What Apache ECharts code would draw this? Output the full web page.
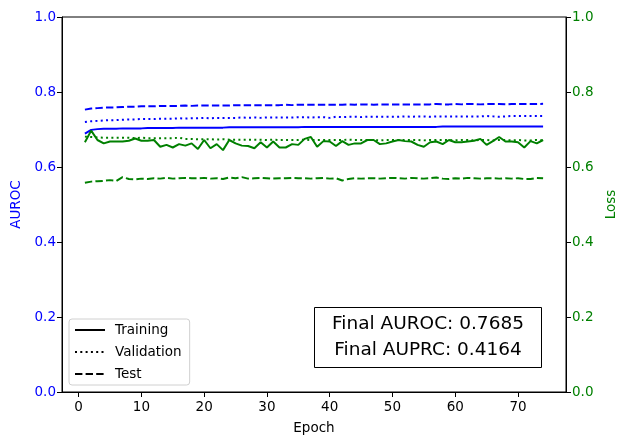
<!DOCTYPE html>
<html>
<head>
<meta charset="utf-8">
<script src="https://cdn.jsdelivr.net/npm/echarts@6.0.0/dist/echarts.min.js"></script>
<style>
    html, body { margin: 0; padding: 0; background: #fff; }
    #chart { width: 618px; height: 435px; }
</style>
</head>
<body>
<div id="chart"></div>
<script>
var epochs = [1, 2, 3, 4, 5, 6, 7, 8, 9, 10, 11, 12, 13, 14, 15, 16, 17, 18, 19, 20,
    21, 22, 23, 24, 25, 26, 27, 28, 29, 30, 31, 32, 33, 34, 35, 36, 37, 38, 39, 40,
    41, 42, 43, 44, 45, 46, 47, 48, 49, 50, 51, 52, 53, 54, 55, 56, 57, 58, 59, 60,
    61, 62, 63, 64, 65, 66, 67, 68, 69, 70, 71, 72, 73, 74];
var xTicks = [0, 10, 20, 30, 40, 50, 60, 70];

var trainAuroc = [0.689, 0.699, 0.701, 0.702, 0.702, 0.702, 0.703, 0.703, 0.703, 0.703,
    0.704, 0.704, 0.704, 0.704, 0.704, 0.705, 0.705, 0.705, 0.705, 0.705,
    0.705, 0.705, 0.705, 0.706, 0.706, 0.706, 0.706, 0.706, 0.706, 0.706,
    0.706, 0.706, 0.706, 0.706, 0.706, 0.707, 0.707, 0.707, 0.707, 0.707,
    0.707, 0.707, 0.707, 0.707, 0.707, 0.707, 0.707, 0.707, 0.707, 0.707,
    0.707, 0.707, 0.707, 0.707, 0.707, 0.707, 0.707, 0.708, 0.708, 0.708,
    0.708, 0.708, 0.708, 0.708, 0.708, 0.708, 0.708, 0.708, 0.708, 0.708,
    0.708, 0.708, 0.708, 0.708];
var valAuroc = [0.720, 0.722, 0.723, 0.724, 0.725, 0.725, 0.726, 0.727, 0.727, 0.728,
    0.728, 0.728, 0.729, 0.729, 0.729, 0.730, 0.729, 0.730, 0.730, 0.731,
    0.730, 0.731, 0.731, 0.731, 0.731, 0.732, 0.731, 0.732, 0.731, 0.732,
    0.732, 0.732, 0.732, 0.732, 0.733, 0.733, 0.732, 0.733, 0.733, 0.731,
    0.734, 0.733, 0.734, 0.734, 0.733, 0.734, 0.734, 0.734, 0.734, 0.734,
    0.734, 0.735, 0.734, 0.735, 0.735, 0.734, 0.735, 0.735, 0.735, 0.735,
    0.735, 0.735, 0.735, 0.735, 0.736, 0.735, 0.734, 0.735, 0.736, 0.736,
    0.736, 0.736, 0.736, 0.736];
var testAuroc = [0.753, 0.756, 0.757, 0.758, 0.759, 0.759, 0.760, 0.761, 0.761, 0.762,
    0.762, 0.762, 0.763, 0.763, 0.763, 0.763, 0.764, 0.763, 0.764, 0.764,
    0.764, 0.764, 0.764, 0.764, 0.765, 0.765, 0.765, 0.765, 0.765, 0.765,
    0.765, 0.765, 0.766, 0.765, 0.766, 0.766, 0.766, 0.766, 0.766, 0.766,
    0.766, 0.766, 0.767, 0.766, 0.767, 0.767, 0.766, 0.767, 0.767, 0.767,
    0.767, 0.767, 0.767, 0.767, 0.767, 0.767, 0.768, 0.767, 0.767, 0.768,
    0.767, 0.768, 0.768, 0.767, 0.768, 0.768, 0.768, 0.767, 0.768, 0.768,
    0.768, 0.768, 0.768, 0.7685];

var trainLoss = [0.666, 0.697, 0.672, 0.663, 0.668, 0.668, 0.668, 0.670, 0.676, 0.670,
    0.670, 0.672, 0.654, 0.659, 0.652, 0.661, 0.657, 0.663, 0.648, 0.672,
    0.650, 0.661, 0.645, 0.672, 0.663, 0.657, 0.656, 0.650, 0.666, 0.652,
    0.668, 0.652, 0.652, 0.661, 0.659, 0.675, 0.680, 0.654, 0.669, 0.668,
    0.656, 0.669, 0.659, 0.663, 0.663, 0.672, 0.672, 0.661, 0.663, 0.668,
    0.672, 0.669, 0.668, 0.659, 0.654, 0.666, 0.668, 0.661, 0.672, 0.666,
    0.666, 0.668, 0.670, 0.675, 0.659, 0.669, 0.680, 0.668, 0.668, 0.666,
    0.652, 0.669, 0.663, 0.672];
var valLoss = [0.681, 0.680, 0.679, 0.678, 0.678, 0.678, 0.678, 0.678, 0.677, 0.678,
    0.677, 0.677, 0.677, 0.677, 0.677, 0.678, 0.675, 0.675, 0.674, 0.674,
    0.674, 0.673, 0.674, 0.673, 0.673, 0.673, 0.673, 0.673, 0.673, 0.672,
    0.673, 0.672, 0.672, 0.672, 0.672, 0.673, 0.672, 0.672, 0.672, 0.672,
    0.672, 0.672, 0.673, 0.672, 0.672, 0.672, 0.672, 0.671, 0.672, 0.672,
    0.672, 0.672, 0.672, 0.672, 0.671, 0.672, 0.672, 0.672, 0.672, 0.671,
    0.672, 0.672, 0.671, 0.672, 0.672, 0.671, 0.672, 0.672, 0.671, 0.672,
    0.671, 0.671, 0.672, 0.671];
var testLoss = [0.558, 0.561, 0.562, 0.563, 0.565, 0.563, 0.573, 0.568, 0.567, 0.569,
    0.568, 0.570, 0.569, 0.571, 0.569, 0.570, 0.571, 0.570, 0.570, 0.571,
    0.569, 0.570, 0.568, 0.572, 0.570, 0.573, 0.569, 0.570, 0.571, 0.570,
    0.569, 0.570, 0.570, 0.571, 0.570, 0.570, 0.569, 0.570, 0.571, 0.569,
    0.570, 0.564, 0.568, 0.570, 0.569, 0.570, 0.570, 0.569, 0.570, 0.571,
    0.570, 0.569, 0.571, 0.570, 0.569, 0.570, 0.572, 0.569, 0.568, 0.570,
    0.569, 0.571, 0.570, 0.569, 0.570, 0.570, 0.569, 0.570, 0.569, 0.570,
    0.568, 0.568, 0.571, 0.570];

var finalAuroc = '0.7685';
var finalAuprc = '0.4164';

var FONT = 'DejaVu Sans';
var BLUE = '#0000ff';
var GREEN = '#008000';
var DASHED = [7.4, 3.2];
var DOTTED = [2, 3.3];

function pairs(vals) {
    return epochs.map(function(e, i) { return [e, vals[i]]; });
}

function lineSeries(name, vals, color, type, yIdx) {
    return {
        name: name,
        type: 'line',
        yAxisIndex: yIdx,
        data: pairs(vals),
        symbol: 'none',
        lineStyle: { color: color, width: 2, type: type, cap: 'butt' },
        itemStyle: { color: color },
        z: 3
    };
}

// black series only used for the legend
function legendSeries(name, type) {
    return {
        name: name,
        type: 'line',
        data: [],
        symbol: 'none',
        lineStyle: { color: '#000', width: 2, type: type, cap: 'butt' },
        itemStyle: { color: '#000' }
    };
}

function yAxis(name, color, pos, gap) {
    return {
        type: 'value',
        position: pos,
        min: 0,
        max: 1,
        interval: 0.2,
        name: name,
        nameLocation: 'middle',
        nameGap: gap,
        nameTextStyle: { color: color, fontFamily: FONT, fontSize: 13.5 },
        axisLine: { show: true, onZero: false, lineStyle: { color: '#000', width: 1 } },
        axisTick: { show: true, length: 5, lineStyle: { color: '#000' } },
        axisLabel: {
            color: color, fontFamily: FONT, fontSize: 13.5, margin: 6,
            formatter: function(v) { return v.toFixed(1); }
        },
        splitLine: { show: false }
    };
}

var myChart = echarts.init(document.getElementById('chart'));

var option = {
    animation: false,
    backgroundColor: '#fff',
    grid: {
        left: 62, right: 52, top: 17, bottom: 43,
        outerBoundsMode: 'none',
        containLabel: false,
        show: true, borderColor: '#000', borderWidth: 1
    },
    legend: {
        orient: 'vertical',
        left: 69,
        top: 319,
        data: ['Training', 'Validation', 'Test'],
        itemWidth: 30,
        itemHeight: 14,
        itemGap: 8,
        padding: [4, 8, 4, 5],
        backgroundColor: '#fff',
        borderColor: '#d0d0d0',
        borderWidth: 1,
        borderRadius: 3,
        itemStyle: { opacity: 0 },
        textStyle: { color: '#000', fontFamily: FONT, fontSize: 13.5, padding: [0, 0, 0, 5] }
    },
    xAxis: {
        type: 'value',
        min: -2.65,
        max: 77.65,
        name: 'Epoch',
        nameLocation: 'middle',
        nameGap: 29,
        nameTextStyle: { color: '#000', fontFamily: FONT, fontSize: 13.5 },
        axisLine: { show: true, onZero: false, lineStyle: { color: '#000', width: 1 } },
        axisTick: { show: true, length: 5, customValues: xTicks, lineStyle: { color: '#000' } },
        axisLabel: { color: '#000', fontFamily: FONT, fontSize: 13.5, margin: 8, customValues: xTicks },
        splitLine: { show: false }
    },
    yAxis: [
        yAxis('AUROC', BLUE, 'left', 38),
        yAxis('Loss', GREEN, 'right', 36)
    ],
    graphic: [{
        type: 'group',
        left: 314,
        top: 307,
        children: [{
            type: 'rect',
            shape: { x: 0, y: 0, width: 227, height: 60 },
            style: { fill: '#fff', stroke: '#000', lineWidth: 1 }
        }, {
            type: 'text',
            x: 113.5,
            y: 30,
            style: {
                text: 'Final AUROC: ' + finalAuroc + '\nFinal AUPRC: ' + finalAuprc,
                fill: '#000',
                font: '18.5px "DejaVu Sans"',
                align: 'center',
                verticalAlign: 'middle',
                lineHeight: 26
            }
        }]
    }],
    series: [
        lineSeries('AUROC train', trainAuroc, BLUE, 'solid', 0),
        lineSeries('AUROC val', valAuroc, BLUE, DOTTED, 0),
        lineSeries('AUROC test', testAuroc, BLUE, DASHED, 0),
        lineSeries('Loss train', trainLoss, GREEN, 'solid', 1),
        lineSeries('Loss val', valLoss, GREEN, DOTTED, 1),
        lineSeries('Loss test', testLoss, GREEN, DASHED, 1),
        legendSeries('Training', 'solid'),
        legendSeries('Validation', DOTTED),
        legendSeries('Test', DASHED)
    ]
};

myChart.setOption(option);
</script>
</body>
</html>
